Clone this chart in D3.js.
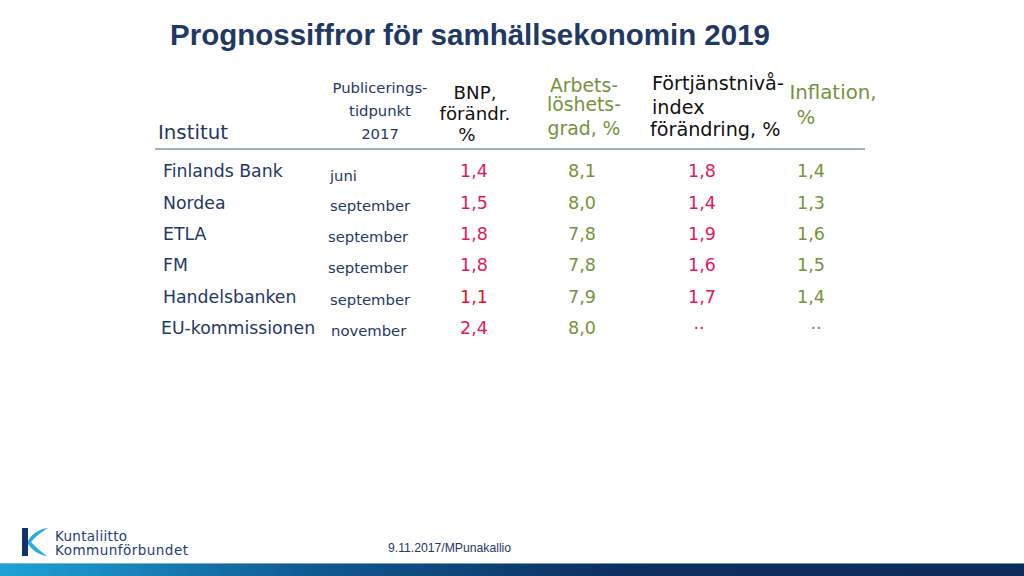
<!DOCTYPE html>
<html><head><meta charset="utf-8">
<script src="https://cdn.jsdelivr.net/npm/d3@7"></script>
<style>
html,body{margin:0;padding:0;background:#fff;}
svg{display:block;}
</style></head>
<body>
<script>
const title = "Prognossiffror för samhällsekonomin 2019";
const institutes = ["Finlands Bank","Nordea","ETLA","FM","Handelsbanken","EU-kommissionen"];
const published = ["juni","september","september","september","september","november"];
const bnp = ["1,4","1,5","1,8","1,8","1,1","2,4"];
const unemployment = ["8,1","8,0","7,8","7,8","7,9","8,0"];
const wageIndex = ["1,8","1,4","1,9","1,6","1,7",".."];
const inflation = ["1,4","1,3","1,6","1,5","1,4",".."];
const columnKeys = ["bnp","unemployment","wageIndex","inflation"];
const footer = "9.11.2017/MPunakallio";

const W = 1024, H = 576;
const navy = "#1f3864", pink = "#e5175c", green = "#76923c";
const svg = d3.select("body").append("svg").attr("width", W).attr("height", H);

const defs = svg.append("defs");
const grad = defs.append("linearGradient").attr("id","bar").attr("x1","0").attr("x2","1");
grad.append("stop").attr("offset","0").attr("stop-color","#1ea3d6");
grad.append("stop").attr("offset","0.3").attr("stop-color","#0f5a92");
grad.append("stop").attr("offset","0.6").attr("stop-color","#0c2f62");
grad.append("stop").attr("offset","1").attr("stop-color","#0d2b5a");

// Title
svg.append("text").attr("x", 170).attr("y", 45)
  .attr("font-family","'Liberation Sans', Arial, sans-serif").attr("font-weight","bold")
  .attr("font-size", 29.5).attr("fill", navy).text(title);

const F = "'DejaVu Sans', Verdana, sans-serif";
function lines(x, ys, txts, size, color, anchor) {
  txts.forEach((t,i)=> svg.append("text").attr("x", x).attr("y", ys[i])
    .attr("font-family", F).attr("font-size", size).attr("fill", color)
    .attr("text-anchor", anchor || "start").text(t));
}
// Headers
lines(158, [139], ["Institut"], 19.8, navy);
lines(380, [93,116,139], ["Publicerings-","tidpunkt","2017"], 14.8, navy, "middle");
lines(475, [99,120], ["BNP,","förändr."], 18.2, "#111", "middle");
lines(467, [141], ["%"], 18.2, "#111", "middle");
lines(584, [92,111,135], ["Arbets-","löshets-","grad, %"], 18.8, green, "middle");
lines(652, [90,114], ["Förtjänstnivå-","index"], 19.2, "#111");
lines(650, [136], ["förändring, %"], 19.2, "#111");
lines(833, [99], ["Inflation,"], 19.8, green, "middle");
lines(806, [124], ["%"], 19.8, green, "middle");

svg.append("line").attr("x1",155).attr("x2",865).attr("y1",149).attr("y2",149)
  .attr("stroke","#7f93ad").attr("stroke-width",1.5);

// Rows
const y = d3.scaleBand().domain(d3.range(institutes.length)).range([156.5, 345]).paddingInner(0);
const rowBase = i => y(i) + y.bandwidth()*0.72;
const colX = {bnp: 474, unemployment: 582, wageIndex: 702, inflation: 811};

const rows = svg.append("g").selectAll("g").data(institutes).join("g");
rows.append("text").attr("x", (d,i)=> i===5 ? 161 : 163).attr("y",(d,i)=>rowBase(i) - 2)
  .attr("font-family",F).attr("font-size",17.3).attr("fill",navy).text(d=>d);
rows.append("text").attr("x",(d,i)=> i===0?330: i===5?331: (i===2||i===3)?328:330)
  .attr("y",(d,i)=>rowBase(i) + (i===0?2:0))
  .attr("font-family",F).attr("font-size",14.8).attr("fill",navy).text((d,i)=>published[i]);

const series = {bnp, unemployment, wageIndex, inflation};
const colors = {bnp: pink, unemployment: green, wageIndex: pink, inflation: green};
columnKeys.forEach(k=>{
  rows.append("text").attr("x", (d,i)=> colX[k] + (series[k][i]===".." ? (k==="wageIndex"?-3:5) : 0))
    .attr("y",(d,i)=> rowBase(i) - (series[k][i]===".." ? 7 : 2))
    .attr("text-anchor","middle").attr("font-family",F).attr("font-size",17.5)
    .attr("fill",(d,i)=> (k==="bnp" && i===4) ? "#e8102e" : colors[k])
    .text((d,i)=>series[k][i]);
});

// Logo
const logo = svg.append("g");
logo.append("rect").attr("x",22).attr("y",528).attr("width",6).attr("height",28).attr("fill","#14336b");
logo.append("path").attr("d","M28,541 C32,533 40,529 48,528 C41,532 35,537 31,542 C36,547 41,552 47,556 C39,555 32,550 28,544 Z").attr("fill","#28a9e0");
svg.append("text").attr("x",55).attr("y",541).attr("font-family","'DejaVu Sans', sans-serif")
  .attr("font-size",13.5).attr("fill","#1f3c78").attr("textLength",72).text("Kuntaliitto");
svg.append("text").attr("x",55).attr("y",555).attr("font-family","'DejaVu Sans', sans-serif")
  .attr("font-size",13.5).attr("fill","#1f3c78").attr("textLength",133).text("Kommunförbundet");

svg.append("text").attr("x",388).attr("y",552).attr("font-family","'Liberation Sans Narrow', 'Liberation Sans', Arial, sans-serif")
  .attr("font-size",12.2).attr("fill",navy).text(footer);

svg.append("rect").attr("x",0).attr("y",563).attr("width",W).attr("height",13).attr("fill","url(#bar)");
svg.append("rect").attr("x",0).attr("y",563).attr("width",W).attr("height",1).attr("fill","#9fc3dd").attr("opacity",0.7);
</script>
</body></html>
